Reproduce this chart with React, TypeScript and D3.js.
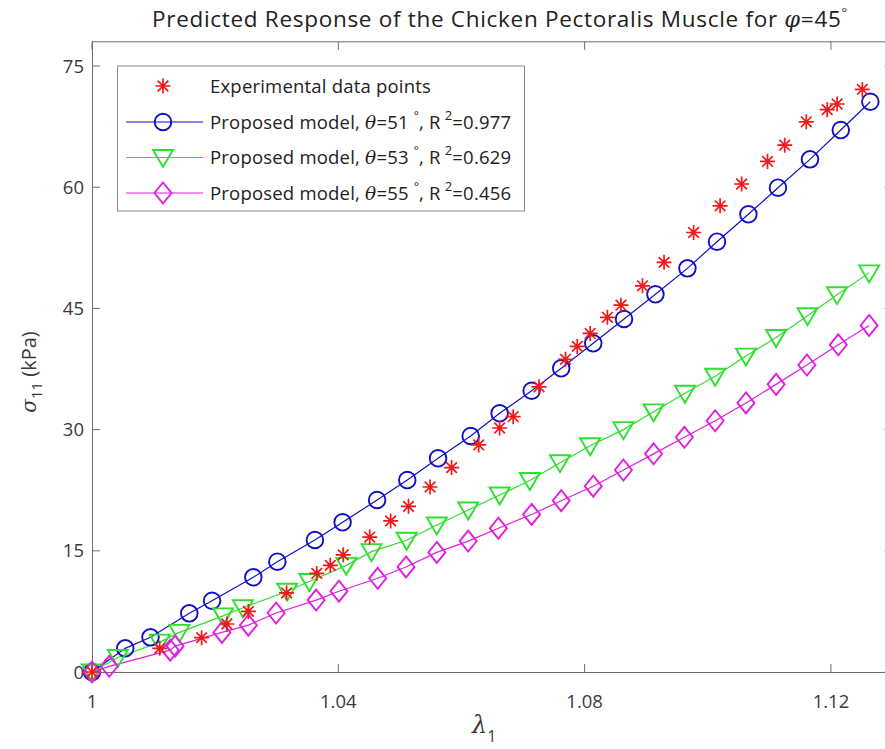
import React from "react";
import * as d3 from "d3";

const expLambda = [1.0, 1.011, 1.0178, 1.0219, 1.0254, 1.0316, 1.0365, 1.0387, 1.0408, 1.0451, 1.0485, 1.0514, 1.0549, 1.0584, 1.0628, 1.0662, 1.0684, 1.0726, 1.0769, 1.0788, 1.0809, 1.0837, 1.0859, 1.0894, 1.0929, 1.0977, 1.102, 1.1055, 1.1097, 1.1125, 1.116, 1.1194, 1.121, 1.1251];
const expStress = [0, 2.93, 4.25, 5.94, 7.5, 9.8, 12.2, 13.2, 14.5, 16.7, 18.7, 20.5, 22.9, 25.3, 28.1, 30.2, 31.6, 35.3, 38.7, 40.3, 41.9, 43.9, 45.4, 47.8, 50.7, 54.4, 57.7, 60.4, 63.2, 65.2, 68.1, 69.6, 70.3, 72.1];

const lambda51 = [1.0, 1.0054, 1.0095, 1.0158, 1.0195, 1.0262, 1.0301, 1.0362, 1.0407, 1.0463, 1.0512, 1.0562, 1.0615, 1.0662, 1.0714, 1.0762, 1.0814, 1.0864, 1.0915, 1.0967, 1.1015, 1.1066, 1.1114, 1.1166, 1.1216, 1.1264];
const stress51 = [0, 2.93, 4.29, 7.26, 8.82, 11.72, 13.65, 16.34, 18.53, 21.29, 23.76, 26.45, 29.21, 32.02, 34.81, 37.59, 40.68, 43.69, 46.75, 49.96, 53.26, 56.65, 59.94, 63.45, 67.08, 70.58];

const lambda53 = [1.0, 1.0042, 1.011, 1.0142, 1.0213, 1.0245, 1.0317, 1.0353, 1.0413, 1.0454, 1.0511, 1.056, 1.0611, 1.0662, 1.0711, 1.076, 1.0809, 1.0863, 1.0912, 1.0963, 1.1012, 1.1062, 1.1111, 1.1162, 1.121, 1.1262];
const stress53 = [0, 1.8, 3.7, 4.9, 6.95, 7.95, 10.0, 11.2, 13.2, 14.9, 16.3, 18.2, 20.05, 21.9, 23.7, 25.9, 28.0, 30.0, 32.2, 34.5, 36.6, 39.1, 41.4, 44.1, 46.7, 49.4];

const lambda55 = [1.0, 1.0028, 1.0127, 1.0135, 1.0211, 1.0254, 1.0299, 1.0364, 1.0401, 1.0464, 1.051, 1.056, 1.0611, 1.066, 1.0714, 1.0762, 1.0814, 1.0863, 1.0912, 1.0962, 1.1012, 1.1062, 1.1111, 1.1161, 1.1212, 1.1262];
const stress55 = [0, 0.7, 2.7, 3.2, 4.9, 5.8, 7.3, 8.9, 10.0, 11.6, 13.0, 14.8, 16.2, 17.8, 19.5, 21.2, 23.0, 25.0, 27.0, 29.05, 31.1, 33.3, 35.6, 38.0, 40.5, 42.9];

const xTicks = [1, 1.04, 1.08, 1.12];
const xTickLabels = ["1", "1.04", "1.08", "1.12"];
const yTicks = [0, 15, 30, 45, 60, 75];
const legendLabels = ["Experimental data points", "51", "53", "55"];
const legendR2 = ["", "0.977", "0.629", "0.456"];

const W = 885, H = 749;
const M = { left: 92, top: 41.8, right: 892.5, bottom: 672 };
const FONT = "'Open Sans', 'Noto Sans', sans-serif";
const BLUE = "#1010c8";
const GREEN = "#2ee02e";
const MAG = "#e020e0";
const RED = "#f01818";
const AX = "#6e6e6e";
const TXT = "#3a3a3a";

function Circle({ x, y }: { x: number; y: number }) {
  return <circle cx={x} cy={y} r={8.3} fill="none" stroke={BLUE} strokeWidth={1.9} />;
}
function Tri({ x, y }: { x: number; y: number }) {
  const p = d3.path();
  p.moveTo(x - 10, y - 7.5);
  p.lineTo(x + 10, y - 7.5);
  p.lineTo(x, y + 9.5);
  p.closePath();
  return <path d={p.toString()} fill="none" stroke={GREEN} strokeWidth={1.9} />;
}
function Dia({ x, y }: { x: number; y: number }) {
  const p = d3.path();
  p.moveTo(x, y - 10.5);
  p.lineTo(x + 8.5, y);
  p.lineTo(x, y + 10.5);
  p.lineTo(x - 8.5, y);
  p.closePath();
  return <path d={p.toString()} fill="none" stroke={MAG} strokeWidth={1.9} />;
}
function Star({ x, y }: { x: number; y: number }) {
  const r = 7.5, d = 5.3;
  const p = d3.path();
  p.moveTo(x - r, y); p.lineTo(x + r, y);
  p.moveTo(x, y - r); p.lineTo(x, y + r);
  p.moveTo(x - d, y - d); p.lineTo(x + d, y + d);
  p.moveTo(x - d, y + d); p.lineTo(x + d, y - d);
  return <path d={p.toString()} fill="none" stroke={RED} strokeWidth={1.7} />;
}

export default function App() {
  const x = d3.scaleLinear().domain([1, 1.13]).range([M.left, M.right]);
  const y = d3.scaleLinear().domain([0, 78]).range([M.bottom, M.top]);
  const line = d3.line<[number, number]>().x((d) => x(d[0])).y((d) => y(d[1]));
  const zip = (a: number[], b: number[]) => a.map((v, i) => [v, b[i]] as [number, number]);
  const s51 = zip(lambda51, stress51);
  const s53 = zip(lambda53, stress53);
  const s55 = zip(lambda55, stress55);
  const sExp = zip(expLambda, expStress);

  const legX = 117.5, legY = 66, legW = 407, legH = 145;
  const rowY = [86, 122, 157.5, 193];

  return (
    <svg width={W} height={H} style={{ position: "absolute", left: 0, top: 0, background: "#fff" }} fontFamily={FONT}>
      <rect x={0} y={0} width={W} height={H} fill="#fff" />
      {/* title */}
      <text x={152} y={27} fontSize={22.5} letterSpacing={0.7} fill="#222">
        Predicted Response of the Chicken Pectoralis Muscle for{"  "}
        <tspan fontStyle="italic" fontFamily="'DejaVu Serif', serif">φ</tspan>=45
        <tspan dy={-10} fontSize={13}>°</tspan>
      </text>
      {/* axes box */}
      <g stroke={AX} strokeWidth={1} fill="none">
        <line x1={M.left} x2={M.right} y1={M.bottom + 0.5} y2={M.bottom + 0.5} />
        <line x1={M.left} x2={M.right} y1={M.top} y2={M.top} />
        <line x1={M.left + 0.5} x2={M.left + 0.5} y1={M.top} y2={M.bottom} />
        <line x1={M.right} x2={M.right} y1={M.top} y2={M.bottom} />
        {xTicks.map((t) => (
          <g key={"xt" + t}>
            <line x1={x(t)} x2={x(t)} y1={M.bottom} y2={M.bottom - 8} />
            <line x1={x(t)} x2={x(t)} y1={M.top} y2={M.top + 8} />
          </g>
        ))}
        {yTicks.map((t) => (
          <g key={"yt" + t}>
            <line x1={M.left} x2={M.left + 8} y1={y(t)} y2={y(t)} />
            <line x1={M.right} x2={M.right - 8} y1={y(t)} y2={y(t)} />
          </g>
        ))}
      </g>
      {xTicks.map((t, i) => (
        <text key={"xl" + t} x={x(t)} y={708} textAnchor="middle" fontSize={18.5} fill={TXT}>
          {xTickLabels[i]}
        </text>
      ))}
      {yTicks.map((t) => (
        <text key={"yl" + t} x={84} y={y(t) + 6.5} textAnchor="end" fontSize={18.5} fill={TXT}>
          {t}
        </text>
      ))}
      {/* axis labels */}
      <text x={472} y={733} fontSize={24} fill={TXT} fontFamily="'DejaVu Serif', serif" fontStyle="italic">
        λ<tspan dy={9} fontSize={16} fontStyle="normal" fontFamily={FONT}>1</tspan>
      </text>
      <text transform="translate(36,372) rotate(-90)" textAnchor="middle" fontSize={20} fill={TXT}>
        <tspan fontFamily="'DejaVu Serif', serif" fontStyle="italic">σ</tspan>
        <tspan dy={6} fontSize={15}>11</tspan>
        <tspan dy={-6}> (kPa)</tspan>
      </text>
      {/* series */}
      <path d={line(s51) || ""} fill="none" stroke={BLUE} strokeWidth={1.2} />
      <path d={line(s53) || ""} fill="none" stroke={GREEN} strokeWidth={1.2} />
      <path d={line(s55) || ""} fill="none" stroke={MAG} strokeWidth={1.2} />
      {s51.map((d, i) => <Circle key={"c" + i} x={x(d[0])} y={y(d[1])} />)}
      {s53.map((d, i) => <Tri key={"t" + i} x={x(d[0])} y={y(d[1])} />)}
      {s55.map((d, i) => <Dia key={"d" + i} x={x(d[0])} y={y(d[1])} />)}
      {sExp.map((d, i) => <Star key={"s" + i} x={x(d[0])} y={y(d[1])} />)}
      {/* legend */}
      <rect x={legX} y={legY} width={legW} height={legH} fill="#fff" stroke="#8a8a8a" strokeWidth={1} />
      <Star x={163} y={rowY[0]} />
      <line x1={126} x2={203} y1={rowY[1]} y2={rowY[1]} stroke={BLUE} strokeWidth={1.2} />
      <Circle x={163} y={rowY[1]} />
      <line x1={126} x2={203} y1={rowY[2]} y2={rowY[2]} stroke={GREEN} strokeWidth={1.2} />
      <Tri x={163} y={rowY[2]} />
      <line x1={126} x2={203} y1={rowY[3]} y2={rowY[3]} stroke={MAG} strokeWidth={1.2} />
      <Dia x={163} y={rowY[3]} />
      <text x={210} y={rowY[0] + 6.5} fontSize={18.5} letterSpacing={0.2} fill="#222">{legendLabels[0]}</text>
      {[1, 2, 3].map((k) => (
        <text key={"lg" + k} x={210} y={rowY[k] + 6.5} fontSize={18.5} letterSpacing={0.2} fill="#222">
          Proposed model, <tspan fontStyle="italic" fontFamily="'DejaVu Serif', serif">θ</tspan>={legendLabels[k]}
          <tspan dx={5} dy={-9} fontSize={12}>°</tspan>
          <tspan dy={9}>, R</tspan>
          <tspan dx={4} dy={-9} fontSize={13}>2</tspan>
          <tspan dy={9}>={legendR2[k]}</tspan>
        </text>
      ))}
    </svg>
  );
}
